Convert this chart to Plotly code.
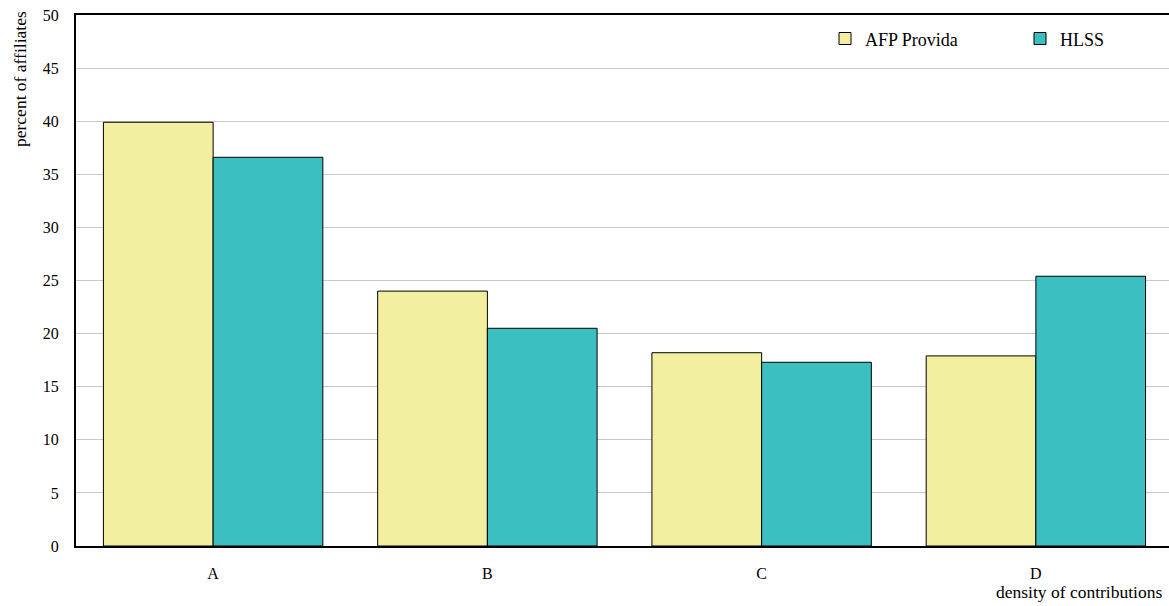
import plotly.graph_objects as go

categories = ["A", "B", "C", "D"]
afp_provida = [39.9, 24.0, 18.2, 17.9]
hlss = [36.6, 20.5, 17.3, 25.4]
y_ticks = [0, 5, 10, 15, 20, 25, 30, 35, 40, 45, 50]

FONT = "Liberation Serif, Times New Roman, serif"

fig = go.Figure()
fig.add_trace(go.Bar(x=categories, y=afp_provida, name="AFP Provida", legendwidth=150,
                     marker=dict(color="#F2F0A0", line=dict(color="black", width=1))))
fig.add_trace(go.Bar(x=categories, y=hlss, name="HLSS",
                     marker=dict(color="#3CBFC0", line=dict(color="black", width=1))))

W = 1173
pw = W - 76
ph = 606 - 15 - 60

fig.update_layout(
    width=W, height=606,
    margin=dict(l=76, r=0, t=15, b=60, autoexpand=False),
    plot_bgcolor="white", paper_bgcolor="white",
    font=dict(family=FONT, size=16, color="black"),
    barmode="group", bargap=0.2, bargroupgap=0,
    showlegend=True,
    legend=dict(orientation="h", x=(825 - 76) / pw, y=0.99, xanchor="left", yanchor="top",
                itemwidth=30,
                bgcolor="rgba(0,0,0,0)", font=dict(family=FONT, size=18)),
    xaxis=dict(showline=True, linecolor="black", linewidth=2, mirror=True, automargin=False,
               ticks="", showgrid=False, tickfont=dict(size=16), ticklabelstandoff=12),
    yaxis=dict(range=[0, 50], tickvals=y_ticks, showline=True, linecolor="black",
               automargin=False,
               linewidth=2, mirror=True, ticks="", showgrid=True, gridcolor="#C8C8C8",
               gridwidth=1, zeroline=False, tickfont=dict(size=16), ticklabelstandoff=12),
    annotations=[
        dict(text="percent of affiliates", x=(20 - 76) / pw, y=(546 - 79) / ph,
             xref="paper", yref="paper", xanchor="center", yanchor="middle",
             showarrow=False, textangle=-90, font=dict(size=17.5)),
        dict(text="density of contributions", x=(1164 - 76) / pw, y=(546 - 592) / ph,
             xref="paper", yref="paper", xanchor="right", yanchor="middle",
             showarrow=False, font=dict(size=17.5)),
    ],
)

fig.write_html("out.html", config={"displayModeBar": False},
               post_script="document.body.style.margin='0';document.body.style.overflow='hidden';")
